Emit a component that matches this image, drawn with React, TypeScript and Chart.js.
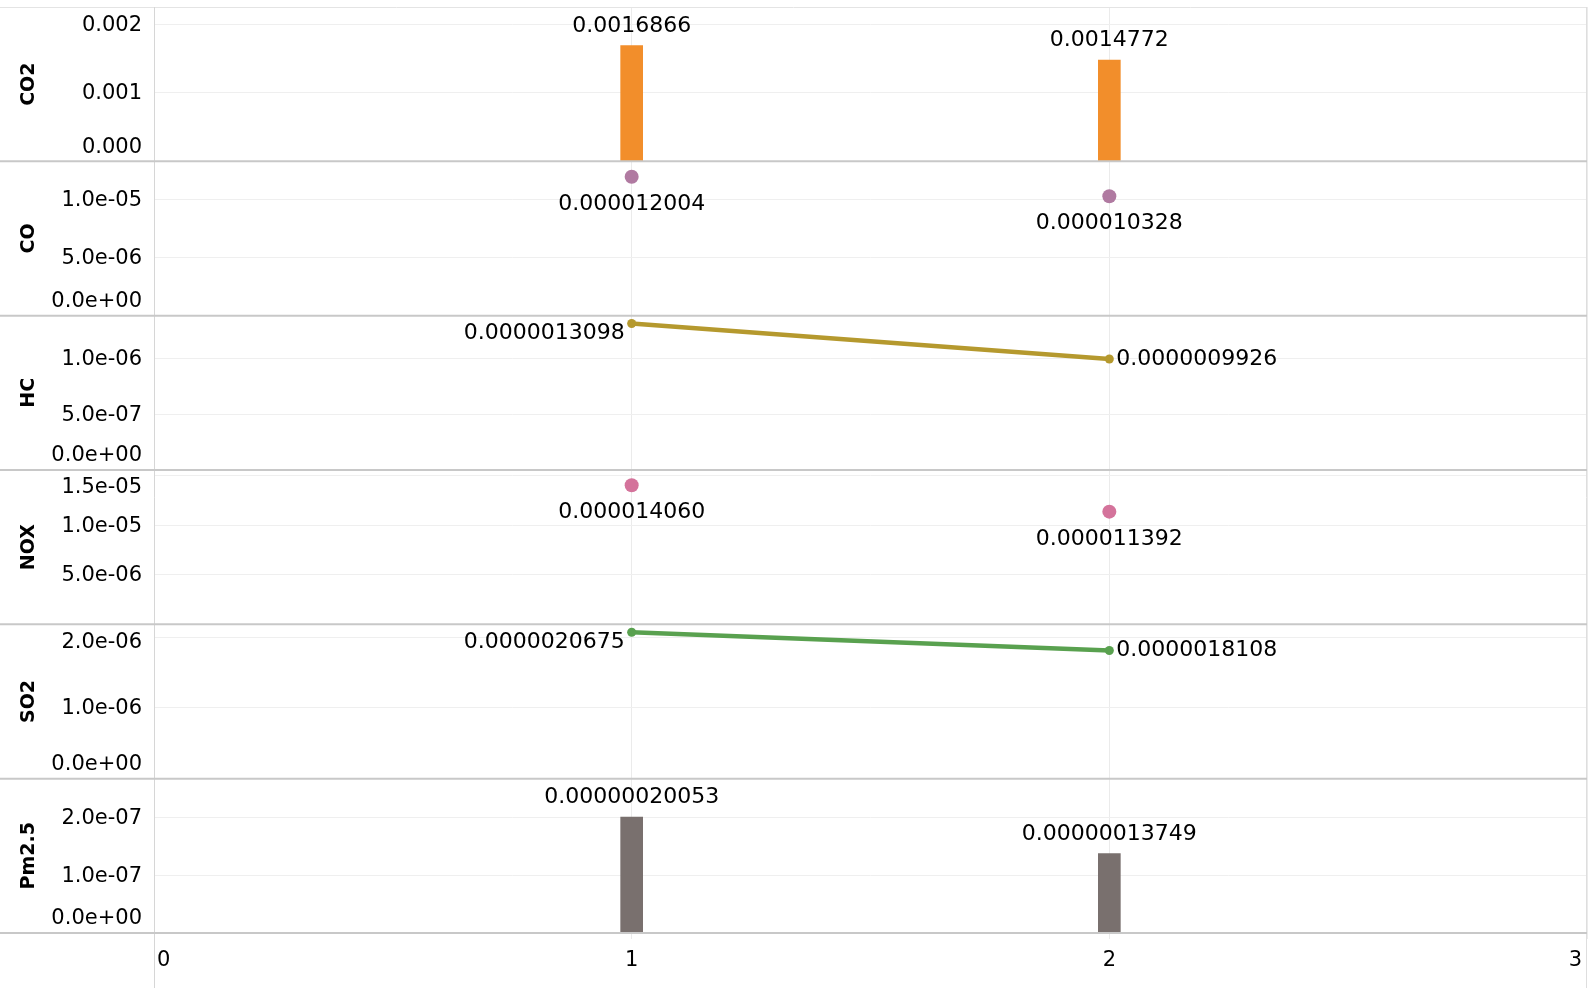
import React, { useEffect, useRef } from "react";
import { Chart, registerables } from "chart.js";

Chart.register(...registerables);

// ---- data ----
const xValues = [1, 2];
const xTicks = [0, 1, 2, 3];
const pollutants = ["CO2", "CO", "HC", "NOX", "SO2", "Pm2.5"];
const co2Values = [0.0016866, 0.0014772];
const coValues = [0.000012004, 0.000010328];
const hcValues = [0.0000013098, 0.0000009926];
const noxValues = [0.00001406, 0.000011392];
const so2Values = [0.0000020675, 0.0000018108];
const pm25Values = [0.00000020053, 0.00000013749];
const co2Ticks = [0, 0.001, 0.002];
const coTicks = [0, 0.000005, 0.00001];
const hcTicks = [0, 0.0000005, 0.000001];
const noxTicks = [0.000005, 0.00001, 0.000015];
const so2Ticks = [0, 0.000001, 0.000002];
const pm25Ticks = [0, 0.0000001, 0.0000002];
const axisMax = [0.00225, 0.00001334, 0.00000138, 0.0000156, 0.00000218, 0.000000267];
const labelDecimals = [7, 9, 10, 9, 10, 11];

const seriesValues = [co2Values, coValues, hcValues, noxValues, so2Values, pm25Values];
const seriesTicks = [co2Ticks, coTicks, hcTicks, noxTicks, so2Ticks, pm25Ticks];
const seriesKinds = ["bar", "dot", "line", "dot", "line", "bar"];
const seriesColors = ["#f28e2b", "#b07aa1", "#b5992e", "#d4739b", "#59a14f", "#79706e"];

const FONT = '"DejaVu Sans", Verdana, sans-serif';

function fmtTick(axisIndex: number, v: number): string {
  if (axisIndex === 0) return v.toFixed(3);
  if (v === 0) return "0.0e+00";
  const [m, e] = v.toExponential(1).split("e");
  const n = parseInt(e, 10);
  return m + "e" + (n < 0 ? "-" : "+") + String(Math.abs(n)).padStart(2, "0");
}

const panelPlugin = {
  id: "panelDecor",
  afterDraw(chart: any) {
    const ctx = chart.ctx as CanvasRenderingContext2D;
    const area = chart.chartArea;
    const H = chart.height;
    ctx.save();

    // top border
    ctx.strokeStyle = "#e4e4e4";
    ctx.lineWidth = 1;
    ctx.beginPath();
    ctx.moveTo(0, area.top + 0.5);
    ctx.lineTo(area.right, area.top + 0.5);
    ctx.stroke();

    // left and right vertical lines
    ctx.strokeStyle = "#d6d6d6";
    ctx.beginPath();
    ctx.moveTo(area.left + 0.5, area.top);
    ctx.lineTo(area.left + 0.5, H);
    ctx.stroke();
    ctx.strokeStyle = "#dedede";
    ctx.beginPath();
    ctx.moveTo(area.right - 0.5, area.top);
    ctx.lineTo(area.right - 0.5, H);
    ctx.stroke();

    // panel separators
    ctx.strokeStyle = "#c8c8c8";
    ctx.lineWidth = 2;
    pollutants.forEach((_, i) => {
      const s = chart.scales["y" + i];
      ctx.beginPath();
      ctx.moveTo(0, s.bottom);
      ctx.lineTo(area.right, s.bottom);
      ctx.stroke();
    });

    // y tick labels and titles
    ctx.fillStyle = "#000000";
    ctx.textBaseline = "middle";
    pollutants.forEach((name, i) => {
      const s = chart.scales["y" + i];
      ctx.font = `21px ${FONT}`;
      ctx.textAlign = "right";
      seriesTicks[i].forEach((v) => {
        const py = s.getPixelForValue(v);
        const y = Math.min(Math.max(py, s.top + 17), s.bottom - 15);
        ctx.fillText(fmtTick(i, v), 142, y + 1);
      });
      ctx.save();
      ctx.translate(29, (s.top + s.bottom) / 2);
      ctx.rotate(-Math.PI / 2);
      ctx.textAlign = "center";
      ctx.font = `bold 19px ${FONT}`;
      ctx.fillText(name, 0, 0);
      ctx.restore();
    });

    // x tick labels
    const xs = chart.scales.x;
    ctx.font = `21px ${FONT}`;
    xTicks.forEach((v, k) => {
      const px = xs.getPixelForValue(v);
      let x = px;
      if (k === 0) {
        ctx.textAlign = "left";
        x = px + 3;
      } else if (k === xTicks.length - 1) {
        ctx.textAlign = "right";
        x = px - 5;
      } else {
        ctx.textAlign = "center";
      }
      ctx.fillText(String(v), x, xs.top + 28);
    });

    // data labels
    ctx.font = `22px ${FONT}`;
    chart.data.datasets.forEach((ds: any, di: number) => {
      const meta = chart.getDatasetMeta(di);
      const kind = seriesKinds[di];
      meta.data.forEach((el: any, j: number) => {
        const text = seriesValues[di][j].toFixed(labelDecimals[di]);
        if (kind === "bar") {
          ctx.textAlign = "center";
          ctx.fillText(text, el.x, el.y - 19.5);
        } else if (kind === "dot") {
          ctx.textAlign = "center";
          ctx.fillText(text, el.x, el.y + 27.5);
        } else {
          if (j === 0) {
            ctx.textAlign = "right";
            ctx.fillText(text, el.x - 7, el.y + 10);
          } else {
            ctx.textAlign = "left";
            ctx.fillText(text, el.x + 7, el.y);
          }
        }
      });
    });

    ctx.restore();
  },
};

export default function App() {
  const canvasRef = useRef<HTMLCanvasElement | null>(null);

  useEffect(() => {
    if (!canvasRef.current) return;

    const datasets: any[] = pollutants.map((name, i) => {
      const data = xValues.map((x, j) => ({ x, y: seriesValues[i][j] }));
      const color = seriesColors[i];
      const kind = seriesKinds[i];
      if (kind === "bar") {
        return {
          type: "bar",
          label: name,
          data,
          yAxisID: "y" + i,
          backgroundColor: color,
          barThickness: 22,
          grouped: false,
        };
      }
      if (kind === "dot") {
        return {
          type: "line",
          label: name,
          data,
          yAxisID: "y" + i,
          showLine: false,
          pointRadius: 7,
          pointBorderWidth: 0,
          pointBackgroundColor: color,
          borderColor: color,
        };
      }
      return {
        type: "line",
        label: name,
        data,
        yAxisID: "y" + i,
        borderColor: color,
        borderWidth: 4.5,
        pointRadius: 4.5,
        pointBorderWidth: 0,
        pointBackgroundColor: color,
        tension: 0,
      };
    });

    const scales: any = {
      x: {
        type: "linear",
        min: 0,
        max: 3,
        offset: false,
        afterBuildTicks: (s: any) => {
          s.ticks = xTicks.map((v) => ({ value: v }));
        },
        ticks: { display: false },
        grid: { color: "#ebebeb", offset: false, drawTicks: true, tickLength: 6 },
        border: { display: false },
        afterFit: (s: any) => {
          s.height = 55;
        },
      },
    };
    pollutants.forEach((_, i) => {
      scales["y" + i] = {
        type: "linear",
        axis: "y",
        position: "left",
        stack: "panels",
        stackWeight: 1,
        weight: pollutants.length - i,
        min: 0,
        max: axisMax[i],
        afterBuildTicks: (s: any) => {
          s.ticks = seriesTicks[i].map((v) => ({ value: v }));
        },
        ticks: { display: false },
        grid: { color: "#efefef", drawTicks: false },
        border: { display: false },
        afterFit: (s: any) => {
          s.width = 154;
        },
      };
    });

    const chart = new Chart(canvasRef.current, {
      type: "bar",
      data: { datasets },
      options: {
        responsive: false,
        animation: false,
        layout: { padding: { top: 5, right: 4, left: 0, bottom: 0 } },
        plugins: {
          legend: { display: false },
          tooltip: { enabled: false },
        },
        scales,
      },
      plugins: [panelPlugin],
    } as any);

    return () => {
      chart.destroy();
    };
  }, []);

  return (
    <div
      style={{
        position: "fixed",
        left: 0,
        top: 0,
        width: 1594,
        height: 988,
        background: "#ffffff",
      }}
    >
      <canvas ref={canvasRef} width={1594} height={988} style={{ display: "block", width: 1594, height: 988 }} />
    </div>
  );
}
